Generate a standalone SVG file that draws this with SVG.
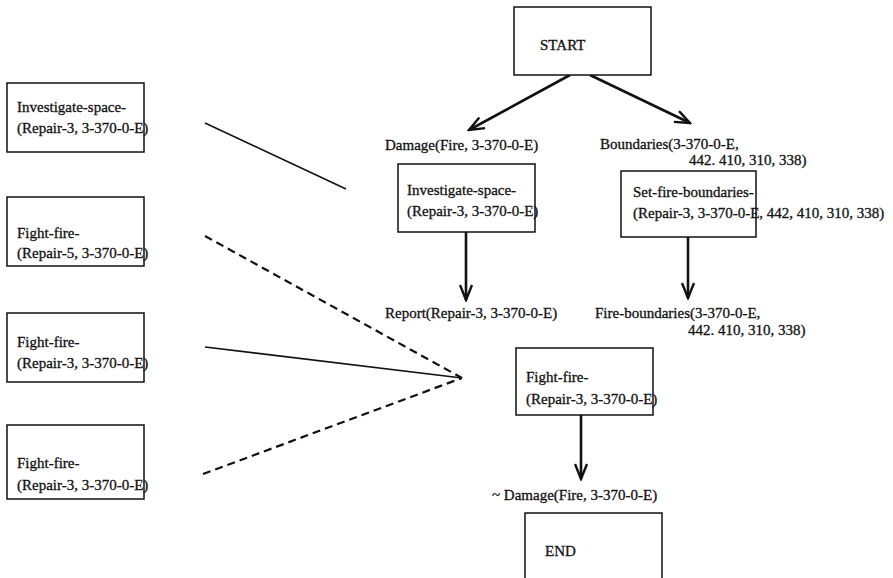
<svg xmlns="http://www.w3.org/2000/svg" width="893" height="578" viewBox="0 0 893 578">
<style>
text{font-family:"Liberation Serif","Times New Roman",serif;font-size:15px;fill:#111;stroke:#111;stroke-width:0.3;}
.box{fill:#fff;stroke:#111;stroke-width:1.5;}
.arr{stroke:#111;stroke-width:2.6;fill:none;}
.ln{stroke:#111;stroke-width:1.6;fill:none;}
.dash{stroke:#111;stroke-width:2.2;fill:none;stroke-dasharray:8,5;}
</style>
<defs>
<marker id="ah" viewBox="0 0 18 14" refX="16" refY="7" markerWidth="18" markerHeight="14" markerUnits="userSpaceOnUse" orient="auto">
<path d="M1,1 L16,7 L1,13" fill="none" stroke="#111" stroke-width="2.4"/>
</marker>
</defs>
<rect width="893" height="578" fill="#fff"/>
<g id="connectors">
<line class="arr" x1="570" y1="75" x2="469" y2="130" marker-end="url(#ah)"/>
<line class="arr" x1="590" y1="75" x2="690" y2="123" marker-end="url(#ah)"/>
<line class="arr" x1="466" y1="232" x2="466" y2="300" marker-end="url(#ah)"/>
<line class="arr" x1="688" y1="237" x2="688" y2="298" marker-end="url(#ah)"/>
<line class="arr" x1="581" y1="415" x2="581" y2="479" marker-end="url(#ah)"/>
<line class="ln" x1="205" y1="123" x2="346" y2="189"/>
<line class="dash" x1="205" y1="236" x2="462" y2="378"/>
<line class="ln" x1="205" y1="347" x2="462" y2="378"/>
<line class="dash" x1="203" y1="474" x2="462" y2="378"/>
</g>
<g id="start">
<rect class="box" x="514" y="7" width="137" height="68"/>
<text x="540" y="50">START</text>
</g>
<g id="damage-label"><text x="385" y="150">Damage(Fire, 3-370-0-E)</text></g>
<g id="boundaries-label">
<text x="600" y="149">Boundaries(3-370-0-E,</text>
<text x="689" y="165">442. 410, 310, 338)</text>
</g>
<g id="investigate-mid">
<rect class="box" x="398" y="164" width="137" height="68"/>
<text x="407" y="195">Investigate-space-</text>
<text x="407" y="216">(Repair-3, 3-370-0-E)</text>
</g>
<g id="set-fire">
<rect class="box" x="621" y="171" width="135" height="66"/>
<text x="633" y="197">Set-fire-boundaries-</text>
<text x="633" y="218">(Repair-3, 3-370-0-E, 442, 410, 310, 338)</text>
</g>
<g id="report-label"><text x="385" y="318">Report(Repair-3, 3-370-0-E)</text></g>
<g id="fire-boundaries-label">
<text x="595" y="318">Fire-boundaries(3-370-0-E,</text>
<text x="688" y="335">442. 410, 310, 338)</text>
</g>
<g id="fight-fire-main">
<rect class="box" x="516" y="348" width="137" height="67"/>
<text x="526" y="382">Fight-fire-</text>
<text x="526" y="404">(Repair-3, 3-370-0-E)</text>
</g>
<g id="not-damage-label"><text x="492" y="500">~ Damage(Fire, 3-370-0-E)</text></g>
<g id="end">
<rect class="box" x="525" y="513" width="137" height="80"/>
<text x="545" y="556">END</text>
</g>
<g id="left-investigate">
<rect class="box" x="7" y="83" width="137" height="69"/>
<text x="17" y="112">Investigate-space-</text>
<text x="17" y="133">(Repair-3, 3-370-0-E)</text>
</g>
<g id="left-fight-5">
<rect class="box" x="7" y="197" width="137" height="69"/>
<text x="17" y="238">Fight-fire-</text>
<text x="17" y="258">(Repair-5, 3-370-0-E)</text>
</g>
<g id="left-fight-3a">
<rect class="box" x="7" y="313" width="137" height="69"/>
<text x="17" y="347">Fight-fire-</text>
<text x="17" y="368">(Repair-3, 3-370-0-E)</text>
</g>
<g id="left-fight-3b">
<rect class="box" x="7" y="425" width="137" height="74"/>
<text x="17" y="468">Fight-fire-</text>
<text x="17" y="490">(Repair-3, 3-370-0-E)</text>
</g>
</svg>
